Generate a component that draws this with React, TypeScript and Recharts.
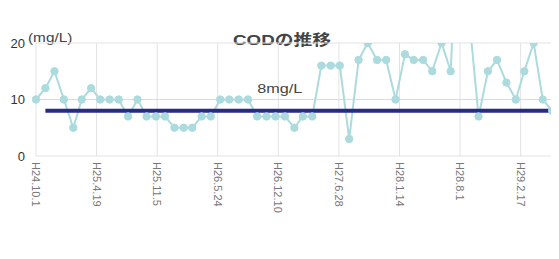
import React from 'react';
import { LineChart, Line, XAxis, YAxis, CartesianGrid, ReferenceLine } from 'recharts';

// monthly COD samples (mg/L), H24.10 - H29.6
const sampleMonths = [
  '2012-10', '2012-11', '2012-12',
  '2013-01', '2013-02', '2013-03', '2013-04', '2013-05', '2013-06', '2013-07', '2013-08', '2013-09', '2013-10', '2013-11', '2013-12',
  '2014-01', '2014-02', '2014-03', '2014-04', '2014-05', '2014-06', '2014-07', '2014-08', '2014-09', '2014-10', '2014-11', '2014-12',
  '2015-01', '2015-02', '2015-03', '2015-04', '2015-05', '2015-06', '2015-07', '2015-08', '2015-09', '2015-10', '2015-11', '2015-12',
  '2016-01', '2016-02', '2016-03', '2016-04', '2016-05', '2016-06', '2016-07', '2016-08', '2016-09', '2016-10', '2016-11', '2016-12',
  '2017-01', '2017-02', '2017-03', '2017-04', '2017-05', '2017-06',
];

const codValues = [
  10, 12, 15, 10, 5, 10, 12, 10, 10, 10,
  7, 10, 7, 7, 7, 5, 5, 5, 7, 7,
  10, 10, 10, 10, 7, 7, 7, 7, 5, 7,
  7, 16, 16, 16, 3, 17, 20, 17, 17, 10,
  18, 17, 17, 15, 20, 15, 52, 24, 7, 15,
  17, 13, 10, 15, 20, 10, 8,
];

const tickLabels = ['H24.10.1', 'H25.4.19', 'H25.11.5', 'H26.5.24', 'H26.12.10', 'H27.6.28', 'H28.1.14', 'H28.8.1', 'H29.2.17'];
const yTicks = [0, 10, 20];
const limitValue = 8;
const limitLabel = '8mg/L';
const limitFrom = '2012-11';
const axisEndDay = 1720;

const base = Date.UTC(2012, 9, 1);
const toDay = (y: number, m: number, d: number) => Math.round((Date.UTC(y, m - 1, d) - base) / 86400000);
const monthDay = (s: string) => {
  const [y, m] = s.split('-').map(Number);
  return toDay(y, m, 1);
};
const heiseiDay = (s: string) => {
  const [y, m, d] = s.slice(1).split('.').map(Number);
  return toDay(1988 + y, m, d);
};

const data = sampleMonths.map((m, i) => ({ day: monthDay(m), cod: codValues[i] }));
const tickDays = tickLabels.map(heiseiDay);
const labelByDay: Record<number, string> = {};
tickDays.forEach((d, i) => { labelByDay[d] = tickLabels[i]; });

const FONT = "'Liberation Sans', Arial, 'Noto Sans CJK JP', sans-serif";
const SERIES = '#acdbde';

const VerticalTick = (props: any) => {
  const { x, y, payload } = props;
  return (
    <text transform={`translate(${x},${y}) rotate(90)`} dy="0.35em" fill="#777" fontSize={11} fontFamily={FONT}>
      {labelByDay[payload.value]}
    </text>
  );
};

const renderLimitLabel = (props: any) => {
  const vb = props.viewBox || {};
  return (
    <text
      x={vb.x + vb.width * 0.458}
      y={vb.y - 18}
      textAnchor="middle"
      fill="#444"
      fontSize={13}
      fontFamily={FONT}
      textLength={45}
      lengthAdjust="spacingAndGlyphs"
    >
      {limitLabel}
    </text>
  );
};

export default function App() {
  return (
    <div style={{ position: 'relative', width: 559, height: 259, margin: -8, overflow: 'hidden', background: '#fff', fontFamily: FONT }}>
      <div
        style={{
          position: 'absolute', left: 233, top: 28, fontSize: 15, fontWeight: 'bold', color: '#444',
          transform: 'scaleX(1.25)', transformOrigin: 'left top', whiteSpace: 'nowrap',
        }}
      >
        CODの推移
      </div>
      <div
        style={{
          position: 'absolute', left: 28, top: 30, fontSize: 13, color: '#444',
          transform: 'scaleX(1.18)', transformOrigin: 'left top', whiteSpace: 'nowrap',
        }}
      >
        (mg/L)
      </div>
      <LineChart width={559} height={259} data={data} margin={{ top: 43, right: 2, bottom: 43, left: 6 }}>
        <CartesianGrid stroke="#e2e2e2" strokeWidth={1} />
        <XAxis
          type="number"
          dataKey="day"
          domain={[0, axisEndDay]}
          ticks={tickDays}
          interval={0}
          axisLine={false}
          tickLine={false}
          tickMargin={0}
          height={60}
          tick={<VerticalTick />}
        />
        <YAxis
          domain={[0, 20]}
          ticks={yTicks}
          allowDataOverflow
          axisLine={false}
          tickLine={false}
          tickMargin={5}
          width={30}
          tick={{ fill: '#333', fontSize: 13, fontFamily: FONT }}
        />
        <ReferenceLine y={10} stroke="#d6d9f2" strokeWidth={1} />
        <Line
          type="linear"
          dataKey="cod"
          stroke={SERIES}
          strokeWidth={2}
          dot={{ r: 3.7, fill: SERIES, stroke: SERIES, strokeWidth: 1 }}
          isAnimationActive={false}
        />
        <ReferenceLine
          segment={[{ x: monthDay(limitFrom), y: limitValue }, { x: axisEndDay, y: limitValue }]}
          stroke="#262b88"
          strokeWidth={4}
          label={renderLimitLabel}
        />
      </LineChart>
    </div>
  );
}
